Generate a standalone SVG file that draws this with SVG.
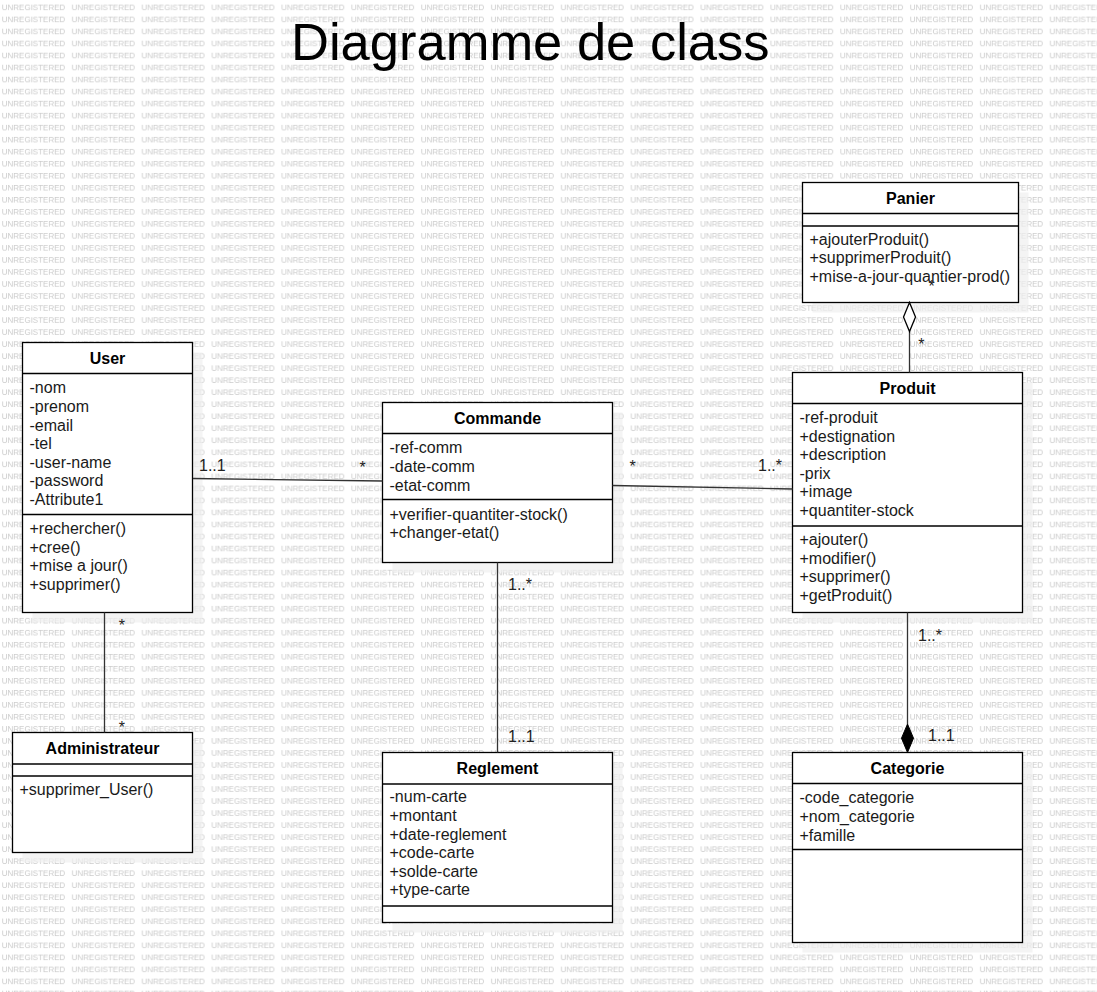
<svg xmlns="http://www.w3.org/2000/svg" width="1097" height="992" viewBox="0 0 1097 992">
<defs>
<pattern id="wm" patternUnits="userSpaceOnUse" x="0" y="0" width="69.85" height="12.025">
<text x="1.7" y="10" font-family="'Liberation Sans', Arial, sans-serif" font-size="8" fill="#cacaca">UNREGISTERED</text>
</pattern>
</defs>
<style>
.box{fill:#ffffff;stroke:#000000;stroke-width:1.3}
.shadow{fill:#f0f0f0;opacity:0.7}
.sep{stroke:#000000;stroke-width:1.3}
.hdr{font-family:'Liberation Sans',Arial,sans-serif;font-size:16px;font-weight:bold;fill:#000;text-anchor:middle}
.mem{font-family:'Liberation Sans',Arial,sans-serif;font-size:16px;fill:#1a1a1a}
.lbl{font-family:'Liberation Sans',Arial,sans-serif;font-size:16px;fill:#222}
.ln{stroke:#333333;stroke-width:1.3;fill:none}
.title{font-family:'Liberation Sans',Arial,sans-serif;font-size:52.5px;fill:#000}
</style>
<rect x="0" y="0" width="1097" height="992" fill="#ffffff"/>
<rect x="0" y="0" width="1097" height="992" fill="url(#wm)"/>
<text class="title" x="291" y="60">Diagramme de class</text>

<g id="panier">
<rect class="shadow" x="812.5" y="192.5" width="216" height="120"/>
<rect class="box" x="802.5" y="182.5" width="216" height="120"/>
<line class="sep" x1="802.5" y1="213.5" x2="1018.5" y2="213.5"/>
<line class="sep" x1="802.5" y1="226" x2="1018.5" y2="226"/>
<text class="hdr" x="910.5" y="203.5">Panier</text>
<text class="mem" x="809.5" y="244.5">+ajouterProduit()</text>
<text class="mem" x="809.5" y="263.1">+supprimerProduit()</text>
<text class="mem" x="809.5" y="281.7">+mise-a-jour-quantier-prod()</text>
</g>

<g id="user">
<rect class="shadow" x="32.5" y="352.5" width="170" height="270"/>
<rect class="box" x="22.5" y="342.5" width="170" height="270"/>
<line class="sep" x1="22.5" y1="373.5" x2="192.5" y2="373.5"/>
<line class="sep" x1="22.5" y1="514.5" x2="192.5" y2="514.5"/>
<text class="hdr" x="107.5" y="364">User</text>
<text class="mem" x="29.5" y="393.3">-nom</text>
<text class="mem" x="29.5" y="411.9">-prenom</text>
<text class="mem" x="29.5" y="430.5">-email</text>
<text class="mem" x="29.5" y="449.1">-tel</text>
<text class="mem" x="29.5" y="467.7">-user-name</text>
<text class="mem" x="29.5" y="486.3">-password</text>
<text class="mem" x="29.5" y="504.9">-Attribute1</text>
<text class="mem" x="29.5" y="534">+rechercher()</text>
<text class="mem" x="29.5" y="552.6">+cree()</text>
<text class="mem" x="29.5" y="571.2">+mise a jour()</text>
<text class="mem" x="29.5" y="589.8">+supprimer()</text>
</g>

<g id="commande">
<rect class="shadow" x="392.5" y="412.5" width="230" height="160"/>
<rect class="box" x="382.5" y="402.5" width="230" height="160"/>
<line class="sep" x1="382.5" y1="433.5" x2="612.5" y2="433.5"/>
<line class="sep" x1="382.5" y1="499.5" x2="612.5" y2="499.5"/>
<text class="hdr" x="497.5" y="424">Commande</text>
<text class="mem" x="389.5" y="453.3">-ref-comm</text>
<text class="mem" x="389.5" y="471.9">-date-comm</text>
<text class="mem" x="389.5" y="490.5">-etat-comm</text>
<text class="mem" x="389.5" y="519.5">+verifier-quantiter-stock()</text>
<text class="mem" x="389.5" y="538.1">+changer-etat()</text>
</g>

<g id="produit">
<rect class="shadow" x="802.5" y="382.5" width="230" height="240"/>
<rect class="box" x="792.5" y="372.5" width="230" height="240"/>
<line class="sep" x1="792.5" y1="403.5" x2="1022.5" y2="403.5"/>
<line class="sep" x1="792.5" y1="526" x2="1022.5" y2="526"/>
<text class="hdr" x="907.5" y="394">Produit</text>
<text class="mem" x="799.5" y="423">-ref-produit</text>
<text class="mem" x="799.5" y="441.6">+destignation</text>
<text class="mem" x="799.5" y="460.2">+description</text>
<text class="mem" x="799.5" y="478.8">-prix</text>
<text class="mem" x="799.5" y="497.4">+image</text>
<text class="mem" x="799.5" y="516">+quantiter-stock</text>
<text class="mem" x="799.5" y="545">+ajouter()</text>
<text class="mem" x="799.5" y="563.6">+modifier()</text>
<text class="mem" x="799.5" y="582.2">+supprimer()</text>
<text class="mem" x="799.5" y="600.8">+getProduit()</text>
</g>

<g id="administrateur">
<rect class="shadow" x="22.5" y="742.5" width="180" height="120"/>
<rect class="box" x="12.5" y="732.5" width="180" height="120"/>
<line class="sep" x1="12.5" y1="764" x2="192.5" y2="764"/>
<line class="sep" x1="12.5" y1="776" x2="192.5" y2="776"/>
<text class="hdr" x="102.5" y="753.5">Administrateur</text>
<text class="mem" x="19.5" y="795">+supprimer_User()</text>
</g>

<g id="reglement">
<rect class="shadow" x="392.5" y="762.5" width="230" height="170"/>
<rect class="box" x="382.5" y="752.5" width="230" height="170"/>
<line class="sep" x1="382.5" y1="784" x2="612.5" y2="784"/>
<line class="sep" x1="382.5" y1="906" x2="612.5" y2="906"/>
<text class="hdr" x="497.5" y="773.5">Reglement</text>
<text class="mem" x="389.5" y="802.3">-num-carte</text>
<text class="mem" x="389.5" y="820.9">+montant</text>
<text class="mem" x="389.5" y="839.5">+date-reglement</text>
<text class="mem" x="389.5" y="858.1">+code-carte</text>
<text class="mem" x="389.5" y="876.7">+solde-carte</text>
<text class="mem" x="389.5" y="895.3">+type-carte</text>
</g>

<g id="categorie">
<rect class="shadow" x="802.5" y="762.5" width="230" height="190"/>
<rect class="box" x="792.5" y="752.5" width="230" height="190"/>
<line class="sep" x1="792.5" y1="783.5" x2="1022.5" y2="783.5"/>
<line class="sep" x1="792.5" y1="849.5" x2="1022.5" y2="849.5"/>
<text class="hdr" x="907.5" y="774">Categorie</text>
<text class="mem" x="799.5" y="803.3">-code_categorie</text>
<text class="mem" x="799.5" y="821.9">+nom_categorie</text>
<text class="mem" x="799.5" y="840.5">+famille</text>
</g>

<g id="connectors">
<line class="ln" x1="193" y1="478.5" x2="382.5" y2="481"/>
<line class="ln" x1="612.5" y1="485.5" x2="792.5" y2="489"/>
<line class="ln" x1="104.5" y1="612.5" x2="104.5" y2="732.5"/>
<line class="ln" x1="497.5" y1="562.5" x2="497.5" y2="752.5"/>
<line class="ln" x1="907.5" y1="612.5" x2="907.5" y2="724"/>
<path d="M907.5,752.5 L901.5,738.2 L907.5,724 L913.5,738.2 Z" fill="#000" stroke="#000" stroke-width="1"/>
<line class="ln" x1="909.5" y1="331.5" x2="909.5" y2="372.5"/>
<path d="M909.5,302.5 L903.5,317 L909.5,331.5 L915.5,317 Z" fill="#fff" stroke="#000" stroke-width="1.3"/>
<text class="lbl" x="199" y="470.7">1..1</text>
<text class="lbl" x="359.4" y="472.7">*</text>
<text class="lbl" x="629.4" y="472.2">*</text>
<text class="lbl" x="758" y="471">1..*</text>
<text class="lbl" x="918.2" y="350.2">*</text>
<text class="lbl" x="928.6" y="291.7">*</text>
<text class="lbl" x="118.7" y="631.4">*</text>
<text class="lbl" x="118.7" y="733.4">*</text>
<text class="lbl" x="508" y="590">1..*</text>
<text class="lbl" x="508" y="741.7">1..1</text>
<text class="lbl" x="918" y="641">1..*</text>
<text class="lbl" x="928" y="740.7">1..1</text>
</g>
</svg>
